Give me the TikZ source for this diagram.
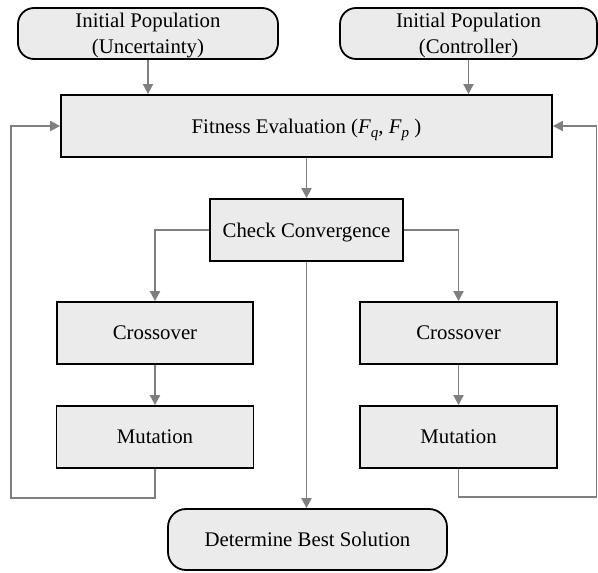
\documentclass[tikz,border=0pt]{standalone}
\usepackage{fontspec}
\setmainfont{Liberation Serif}
\usetikzlibrary{arrows.meta}
\definecolor{boxfill}{HTML}{EBEBEB}
\definecolor{conncol}{HTML}{7F7F7F}
\newcommand\mysubs[1]{\raisebox{-0.5ex}{\fontsize{7.5}{8}\selectfont\itshape #1}}
\tikzset{
  procbox/.style={draw=black, line width=0.9pt, fill=boxfill, minimum height=31pt, inner sep=0pt, align=center, text depth=0pt, font=\fontsize{10.4}{13}\selectfont},
  termbox/.style={procbox, rounded corners=8pt},
  conn/.style={draw=conncol, line width=0.95pt, -{Triangle[length=5pt,width=5pt]}},
  plainconn/.style={draw=conncol, line width=0.95pt}
}
\begin{document}
\begin{tikzpicture}[x=0.5pt,y=-0.5pt]
\useasboundingbox (0,0) rectangle (598,572);
\node[termbox, minimum width=130pt, minimum height=25.5pt] (ipu) at (148,33.5) {Initial Population\\(Uncertainty)};
\node[termbox, minimum width=128.5pt, minimum height=25.5pt] (ipc) at (468.5,33.5) {Initial Population\\(Controller)};
\node[procbox, minimum width=245.5pt] (fit) at (306.5,126) {Fitness Evaluation (\textit{F}\mysubs{q}, \textit{F}\mysubs{p} )};
\node[procbox, minimum width=96.5pt] (chk) at (306.5,230) {Check Convergence};
\node[procbox, minimum width=98pt] (lc) at (155,333) {Crossover};
\node[procbox, minimum width=98.5pt] (rc) at (458.5,333) {Crossover};
\node[procbox, minimum width=98.5pt] (lm) at (155,437) {Mutation};
\node[procbox, minimum width=98.5pt] (rm) at (458.5,437) {Mutation};
\node[termbox, minimum width=139.5pt, minimum height=30.5pt, rounded corners=9pt] (det) at (307.5,539.5) {Determine Best Solution};
\coordinate (fbL) at (11,498);
\coordinate (fbR) at (596.5,497);
\draw[conn] (ipu) -- (ipu.south |- fit.north);
\draw[conn] (ipc) -- (ipc.south |- fit.north);
\draw[conn] (fit.south -| chk.north) -- (chk.north);
\draw[conn] (chk.west) -| (lc.north);
\draw[conn] (chk.east) -| (rc.north);
\draw[conn] (lc) -- (lm);
\draw[conn] (rc) -- (rm);
\draw[conn] (chk.south) -- (chk.south |- det.north);
\draw[conn] (lm.south) -- (lm.south |- fbL) -- (fbL) |- (fit.west);
\draw[conn] (rm.south) -- (rm.south |- fbR) -- (fbR) |- (fit.east);
\end{tikzpicture}
\end{document}
